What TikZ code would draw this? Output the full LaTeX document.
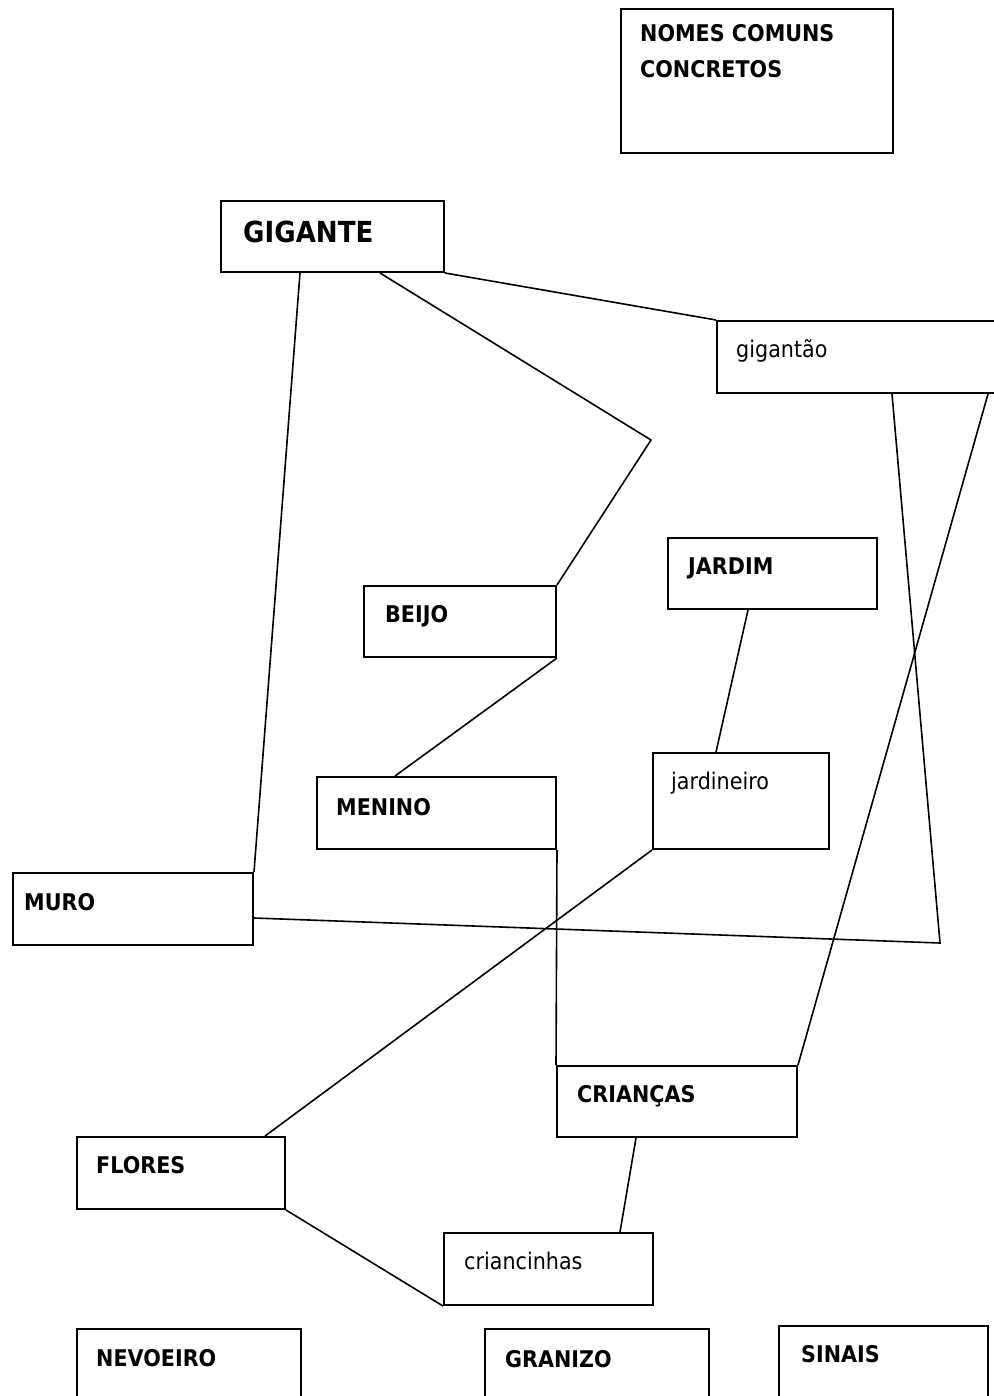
\documentclass[tikz,border=0pt]{standalone}
\usepackage{fontspec}
\setmainfont{DejaVu Sans}[FakeStretch=0.9]
\usetikzlibrary{calc}
\tikzset{
  box/.style={draw, line width=2pt, rectangle, inner sep=0pt, anchor=north west},
  lbl/.style={anchor=base west, inner sep=0pt, font=\fontsize{23}{28}\selectfont\bfseries},
  lblr/.style={anchor=base west, inner sep=0pt, font=\fontsize{23}{28}\selectfont},
  conn/.style={line width=1.6pt}
}
\begin{document}
\begin{tikzpicture}[x=1pt,y=-1pt]
\useasboundingbox (0,0) rectangle (993,1396);
\fill[white] (0,0) rectangle (993,1396);
% boxes
\node[box, minimum width=272pt, minimum height=144pt] (nomes) at (620,8) {};
\node[box, minimum width=223pt, minimum height=71pt] (gig) at (220,200) {};
\node[box, minimum width=290pt, minimum height=72pt] (gigao) at (716,320) {};
\node[box, minimum width=192pt, minimum height=71pt] (beijo) at (363,585) {};
\node[box, minimum width=209pt, minimum height=71pt] (jardim) at (667,537) {};
\node[box, minimum width=239pt, minimum height=72pt] (menino) at (316,776) {};
\node[box, minimum width=176pt, minimum height=96pt] (jardo) at (652,752) {};
\node[box, minimum width=240pt, minimum height=72pt] (muro) at (12,872) {};
\node[box, minimum width=240pt, minimum height=71pt] (criancas) at (556,1065) {};
\node[box, minimum width=208pt, minimum height=72pt] (flores) at (76,1136) {};
\node[box, minimum width=209pt, minimum height=72pt] (crinhas) at (443,1232) {};
\node[box, minimum width=224pt, minimum height=90pt] (nevo) at (76,1328) {};
\node[box, minimum width=224pt, minimum height=90pt] (gran) at (484,1328) {};
\node[box, minimum width=209pt, minimum height=90pt] (sinais) at (778,1325) {};
% texts
\node[lbl] (tnomes1) at (640,42) {NOMES COMUNS};
\node[lbl] (tnomes2) at (640,78) {CONCRETOS};
\node[lbl, font=\fontsize{29}{34}\selectfont\bfseries] (tgig) at (243,243) {GIGANTE};
\node[lblr] (tgigao) at (736,357) {gigantão};
\node[lbl] (tbeijo) at (385,622) {BEIJO};
\node[lbl] (tjardim) at (688,574) {JARDIM};
\node[lbl] (tmenino) at (336,815) {MENINO};
\node[lblr] (tjardo) at (671,789) {jardineiro};
\node[lbl] (tmuro) at (24,910) {MURO};
\node[lbl] (tcri) at (577,1102) {CRIANÇAS};
\node[lbl] (tflores) at (96,1173) {FLORES};
\node[lblr] (tcrinhas) at (464,1269) {criancinhas};
\node[lbl] (tnevo) at (96,1366) {NEVOEIRO};
\node[lbl] (tgran) at (505,1367) {GRANIZO};
\node[lbl] (tsinais) at (801,1362) {SINAIS};
% bend points
\coordinate (b1) at (651,440);
\coordinate (b2) at (940,943);
% connectors
\draw[conn] ([xshift=80pt]gig.south west) -- (muro.north east);
\draw[conn] ([xshift=160pt]gig.south west) -- (b1) -- (beijo.north east);
\draw[conn] (gig.south east) -- (gigao.north west);
\draw[conn] (beijo.south east) -- ([xshift=79pt]menino.north west);
\draw[conn] ([xshift=81pt]jardim.south west) -- ([xshift=64pt]jardo.north west);
\draw[conn] (menino.south east) -- (criancas.north west);
\draw[conn] ([xshift=176pt]gigao.south west) -- (b2) -- ([yshift=-46pt]muro.north east);
\draw[conn] ([xshift=272pt]gigao.south west) -- (criancas.north east);
\draw[conn] (jardo.south west) -- ([xshift=189pt]flores.north west);
\draw[conn] (flores.south east) -- (crinhas.south west);
\draw[conn] ([xshift=80pt]criancas.south west) -- ([xshift=177pt]crinhas.north west);
\end{tikzpicture}
\end{document}
